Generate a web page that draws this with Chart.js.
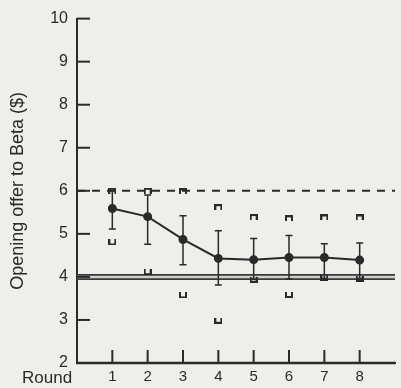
<!DOCTYPE html>
<html lang="en">
<head>
  <meta charset="UTF-8">
  <title>Opening offer to Beta</title>
  <script src="https://cdn.jsdelivr.net/npm/chart.js"></script>
  <style>
    body {
      margin: 0;
      background-color: #eeeeeb;
    }
    canvas {
      display: block;
    }
  </style>
</head>
<body>

  <canvas id="graficoOfertas" width="401" height="388"></canvas>

  <script>
    // Datos
    const rondas = [1, 2, 3, 4, 5, 6, 7, 8];
    const medias = [5.59, 5.40, 4.87, 4.43, 4.40, 4.45, 4.45, 4.39];
    const errorAlto = [6.00, 5.90, 5.42, 5.07, 4.89, 4.96, 4.77, 4.79];
    const errorBajo = [5.11, 4.76, 4.28, 3.81, 3.94, 3.95, 3.96, 3.96];
    const marcaAlta = [6.00, 6.00, 5.99, 5.62, 5.39, 5.36, 5.38, 5.38];
    const marcaBaja = [4.80, 4.11, 3.57, 2.98, 3.93, 3.58, 3.97, 3.96];
    const lineaDiscontinua = 6;
    const lineaDoble = 4;
    const rangoX = [0, 9];
    const rangoY = [2, 10];

    const tinta = '#2a2a2a';

    // marcas en forma de corchete (abierto hacia abajo / hacia arriba)
    function corchete(abajo) {
      const c = document.createElement('canvas');
      c.width = 8;
      c.height = 6;
      const g = c.getContext('2d');
      g.fillStyle = tinta;
      if (abajo) {
        g.fillRect(0, 0, 8, 2);
      } else {
        g.fillRect(0, 4, 8, 2);
      }
      g.fillRect(0, 0, 2, 6);
      g.fillRect(6, 0, 2, 6);
      return c;
    }

    const pluginTinta = {
      id: 'tinta',
      beforeDraw(chart) {
        const ctx = chart.ctx;
        ctx.save();
        ctx.fillStyle = '#eeeeeb';
        ctx.fillRect(0, 0, chart.width, chart.height);
        ctx.restore();
      },
      afterDatasetsDraw(chart) {
        const { ctx, scales: { x, y } } = chart;
        ctx.save();
        ctx.strokeStyle = tinta;
        ctx.lineWidth = 1.5;
        rondas.forEach((r, i) => {
          const px = x.getPixelForValue(r);
          const arriba = y.getPixelForValue(errorAlto[i]);
          const abajo = y.getPixelForValue(errorBajo[i]);
          ctx.beginPath();
          ctx.moveTo(px, arriba);
          ctx.lineTo(px, abajo);
          ctx.moveTo(px - 3.5, arriba);
          ctx.lineTo(px + 3.5, arriba);
          ctx.moveTo(px - 3.5, abajo);
          ctx.lineTo(px + 3.5, abajo);
          ctx.stroke();
        });

        // eje x
        ctx.lineWidth = 2.5;
        ctx.beginPath();
        ctx.moveTo(x.left - 1, y.bottom);
        ctx.lineTo(x.right, y.bottom);
        ctx.stroke();

        // marcas de los ejes hacia adentro
        ctx.lineWidth = 2;
        y.ticks.forEach(t => {
          if (t.value <= rangoY[0]) return;
          const py = y.getPixelForValue(t.value);
          ctx.beginPath();
          ctx.moveTo(x.left, py);
          ctx.lineTo(x.left + 13, py);
          ctx.stroke();
        });
        rondas.forEach(r => {
          const px = x.getPixelForValue(r);
          ctx.beginPath();
          ctx.moveTo(px, y.bottom);
          ctx.lineTo(px, y.bottom - 13);
          ctx.stroke();
        });

        ctx.fillStyle = tinta;
        ctx.font = '17px "Liberation Sans", Arial, sans-serif';
        ctx.textAlign = 'left';
        ctx.textBaseline = 'alphabetic';
        ctx.fillText('Round', 22, 383);
        ctx.restore();
      }
    };

    new Chart(document.getElementById('graficoOfertas'), {
      type: 'line',
      data: {
        datasets: [
          {
            data: rondas.map((r, i) => ({ x: r, y: medias[i] })),
            borderColor: tinta,
            borderWidth: 2,
            pointRadius: 3.5,
            pointBackgroundColor: tinta,
            pointBorderColor: tinta,
            tension: 0,
            order: 1
          },
          {
            data: rondas.map((r, i) => ({ x: r, y: marcaAlta[i] })),
            showLine: false,
            pointStyle: corchete(true),
            order: 2
          },
          {
            data: rondas.map((r, i) => ({ x: r, y: marcaBaja[i] })),
            showLine: false,
            pointStyle: corchete(false),
            order: 2
          },
          {
            data: rangoX.map(v => ({ x: v, y: lineaDiscontinua })),
            borderColor: tinta,
            borderWidth: 2,
            borderDash: [8, 7],
            pointRadius: 0,
            order: 3
          },
          {
            data: rangoX.map(v => ({ x: v, y: lineaDoble })),
            borderColor: '#cfcfcc',
            borderWidth: 2.5,
            pointRadius: 0,
            order: 4
          },
          {
            data: rangoX.map(v => ({ x: v, y: lineaDoble })),
            borderColor: '#3a3a3a',
            borderWidth: 6,
            pointRadius: 0,
            order: 5
          }
        ]
      },
      options: {
        responsive: false,
        animation: false,
        devicePixelRatio: 1,
        layout: { padding: { top: 11, right: 4, left: 0, bottom: 0 } },
        plugins: {
          legend: { display: false },
          tooltip: { enabled: false }
        },
        scales: {
          x: {
            type: 'linear',
            min: rangoX[0],
            max: rangoX[1],
            afterFit: scale => { scale.height = 25; },
            grid: { display: false, drawTicks: false },
            border: { display: true, color: tinta, width: 2 },
            ticks: {
              stepSize: 1,
              padding: 5,
              color: tinta,
              font: { family: '"Liberation Sans", Arial, sans-serif', size: 15 },
              callback: v => rondas.includes(v) ? String(v) : ''
            }
          },
          y: {
            min: rangoY[0],
            max: rangoY[1],
            afterFit: scale => { scale.width = 77; },
            grid: { display: false, drawTicks: false },
            border: { display: true, color: tinta, width: 2 },
            ticks: {
              stepSize: 1,
              padding: 9,
              color: tinta,
              font: { family: '"Liberation Sans", Arial, sans-serif', size: 16 }
            },
            title: {
              display: true,
              text: 'Opening offer to Beta ($)',
              color: tinta,
              padding: { top: 7, bottom: 0 },
              font: { family: '"Liberation Sans", Arial, sans-serif', size: 18 }
            }
          }
        }
      },
      plugins: [pluginTinta]
    });
  </script>

</body>
</html>
